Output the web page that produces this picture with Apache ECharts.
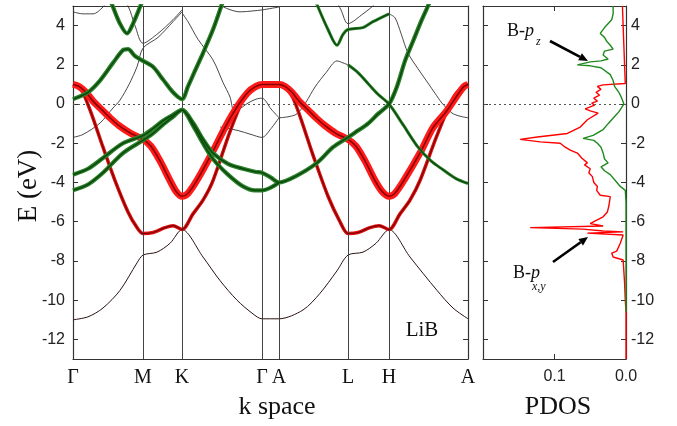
<!doctype html>
<html>
<head>
<meta charset="utf-8">
<script src="https://cdn.jsdelivr.net/npm/echarts@6/dist/echarts.min.js"></script>
<style>
  html, body { margin:0; padding:0; background:#fff; }
  #chart { width:677px; height:426px; }
</style>
</head>
<body>
<div id="chart"></div>
<script>
// k path (distance along path) and energy ticks
const kPos   = [0, 70, 109, 189, 206, 275, 316, 395];
const kNames = ['Γ', 'M', 'K', 'Γ', 'A', 'L', 'H', 'A'];
const eTicks = [-12, -10, -8, -6, -4, -2, 0, 2, 4];

// thin (black) bands : [k, E]
const bandLow = [[0,-11],[15,-10.85],[30,-10.4],[47,-9.5],[64,-8.1],[70,-7.7],[84,-7.55],[97,-7.1],[109,-6.4],
  [130,-7.8],[147,-9.0],[164,-10.0],[180,-10.7],[189,-10.95],[206,-10.95],[230,-10.5],[247,-9.65],[264,-8.5],[275,-7.7],
  [290,-7.55],[303,-7.1],[316,-6.4],[337,-7.8],[364,-9.5],[380,-10.4],[395,-10.95]];
const bandGM = [[0,-1.7],[10,-1.55],[27,-0.97],[40,-0.2],[47,0.2],[56,1.0],[64,1.9],[70,2.85],[85,3.4],[100,4.2],[109,4.7]];
const bandTopGM = [[0,4.7],[10,4.6],[20,4.6],[30,4.95],[43,5.8],[55,5.0],[62,4.0],[70,3.1],[85,3.6],[100,4.3],[109,4.8]];
const bandKG = [[109,4.65],[115,4.2],[125,3.3],[140,2.25],[150,1.1],[157,0.36],[161,-0.35],[165,-0.3],[175,0.05],[183,0.25],[189,0.3],[198,-0.25],[206,-0.7]];
const bandKG2 = [[147,-1.17],[165,-1.35],[178,-1.55],[189,-1.7],[198,-1.25],[206,-0.7]];
const bandTopGA = [[145,5.1],[155,4.85],[167,4.7],[180,4.75],[189,4.8],[206,4.95]];
const bandAL = [[206,-0.7],[215,-0.65],[224,-0.5],[233,0.1],[242,0.87],[253,1.6],[264,2.2],[270,2.1],[275,2.0]];
const bandTopL = [[258,5.8],[268,4.8],[275,4.1],[290,4.6],[302,5.1],[308,5.5]];
const bandHA = [[316,4.6],[322,4.4],[328,3.6],[335,2.6],[345,1.8],[355,1.07],[362,0.55],[369,0.05],[379,-0.46],[387,-0.62],[395,-0.7]];

// B-px,y fat bands (red)
const redMain = [[0,1.0],[6,0.9],[13,0.6],[20,0.15],[29,-0.3],[38,-0.75],[46,-1.1],[58,-1.5],[70,-1.8],
  [78,-2.15],[87,-2.9],[97,-3.9],[103,-4.45],[109,-4.7],[115,-4.55],[125,-3.8],[140,-2.4],[152,-1.2],[164,-0.15],
  [175,0.6],[183,0.9],[189,1.0],[206,1.0],[212,0.9],[219,0.6],[226,0.15],[235,-0.3],[244,-0.75],[252,-1.1],[263,-1.5],
  [275,-1.8],[283,-2.15],[292,-2.9],[302,-3.9],[309,-4.45],[316,-4.7],[322,-4.55],[332,-3.8],[348,-2.4],[360,-1.2],
  [373,-0.4],[385,0.5],[391,0.9],[395,1.0]];
const redSteep = [[0,1.0],[8,0.75],[17,-0.3],[30,-2.2],[42,-3.9],[55,-5.5],[64,-6.3],[70,-6.6],[80,-6.55],[92,-6.3],
  [100,-6.2],[109,-6.4],[120,-5.6],[130,-4.9],[140,-3.9],[157,-1.4],[172,0.4],[183,0.9],[189,1.0],[206,1.0],[212,0.85],
  [221,0.2],[240,-2.6],[255,-4.7],[267,-6.0],[275,-6.6],[285,-6.55],[297,-6.3],[306,-6.2],[316,-6.4],[327,-5.6],
  [337,-4.9],[347,-3.9],[364,-1.6],[380,0.3],[390,0.9],[395,1.0]];

// B-pz fat bands (green)
const greenUp = [[0,0.25],[15,0.6],[27,1.2],[40,2.1],[50,2.75],[55,2.8],[62,2.45],[70,2.2],[80,1.9],[90,1.25],[100,0.6],
  [109,0.25],[115,0.9],[122,1.7],[130,2.6],[140,3.8],[147,4.8],[152,5.6]];
const greenTopGM = [[35,5.6],[40,4.95],[47,4.1],[54,3.6],[60,4.1],[67,4.95],[72,5.6]];
const greenLow1 = [[0,-3.6],[15,-3.3],[30,-2.75],[50,-2.0],[70,-1.6],[80,-1.25],[90,-0.85],[100,-0.55],[109,-0.3],
  [120,-0.95],[130,-1.8],[140,-2.5],[155,-3.05],[170,-3.3],[182,-3.45],[189,-3.5],[198,-3.75],[206,-4.0],
  [222,-3.7],[244,-3.0],[260,-2.2],[275,-1.7],[285,-1.35],[295,-1.0],[305,-0.5],[316,0.0],
  [324,0.9],[332,2.2],[340,3.2],[348,4.2],[355,5.0],[360,5.6]];
const greenLow2 = [[0,-4.4],[15,-4.1],[30,-3.5],[50,-2.5],[70,-1.85],[80,-1.5],[90,-1.05],[100,-0.65],[109,-0.3],
  [120,-1.1],[130,-2.0],[140,-2.8],[155,-3.6],[170,-4.2],[182,-4.4],[189,-4.4],[198,-4.25],[206,-4.0]];
const greenLH = [[275,2.0],[285,1.6],[295,1.05],[305,0.5],[316,0],[330,-1.05],[345,-2.2],[358,-2.9],[370,-3.35],[383,-3.8],[395,-4.05]];
const greenTopAL = [[240,5.6],[245,4.95],[255,3.8],[264,3.0],[270,3.55],[275,3.8],[290,3.9],[300,4.2],[316,4.6]];

// PDOS : [value, E]
const pdosPxy = [[0.005,5.0],[0.004,4.0],[0.003,3.0],[0.002,2.0],[0.001,1.05],[0.032,0.98],[0.04,0.9],[0.035,0.75],
  [0.042,0.6],[0.037,0.45],[0.045,0.3],[0.04,0.15],[0.048,0.05],[0.044,-0.05],[0.057,-0.25],[0.05,-0.35],[0.039,-0.46],
  [0.054,-0.8],[0.064,-1.17],[0.082,-1.5],[0.124,-1.68],[0.148,-1.8],[0.12,-1.93],[0.092,-2.0],[0.085,-2.2],[0.078,-2.35],
  [0.068,-2.5],[0.062,-2.75],[0.054,-3.0],[0.058,-3.1],[0.05,-3.3],[0.052,-3.5],[0.047,-3.7],[0.045,-4.0],[0.04,-4.2],
  [0.041,-4.4],[0.036,-4.65],[0.022,-4.72],[0.024,-5.2],[0.026,-5.5],[0.032,-5.75],[0.045,-6.0],[0.05,-6.1],[0.032,-6.22],
  [0.134,-6.3],[0.06,-6.38],[0.032,-6.47],[0.004,-6.52],[0.054,-6.58],[0.004,-6.68],[0.008,-7.1],[0.013,-7.5],[0.02,-7.6],
  [0.018,-7.8],[0.004,-7.95],[0.002,-9.1],[0.001,-10.0],[0,-10.6],[0,-13]];
const pdosPz = [[0.018,5.0],[0.018,4.6],[0.02,4.3],[0.03,3.9],[0.036,3.6],[0.03,3.4],[0.027,3.2],[0.022,3.0],[0.018,2.8],
  [0.03,2.7],[0.032,2.5],[0.025,2.3],[0.035,2.2],[0.05,2.15],[0.068,2.0],[0.05,1.95],[0.035,1.85],[0.022,1.5],[0.018,1.2],
  [0.016,0.9],[0.01,0.6],[0.006,0.3],[0.003,0.0],[0.01,-0.4],[0.015,-0.6],[0.025,-1.0],[0.032,-1.3],[0.046,-1.6],
  [0.06,-1.75],[0.045,-1.85],[0.04,-2.0],[0.035,-2.2],[0.032,-2.5],[0.03,-2.8],[0.025,-3.0],[0.035,-3.2],[0.03,-3.4],
  [0.022,-3.6],[0.015,-3.9],[0.008,-4.2],[0.001,-4.4],[0,-5],[0,-10.6]];

const SERIF = '"Liberation Serif", "Times New Roman", serif';
const SANS = '"Liberation Sans", Arial, sans-serif';
const frame = { show: true, onZero: false, lineStyle: { color: '#333', width: 1.2 } };

function line(data, color, width, z) {
  return { type: 'line', xAxisIndex: 0, yAxisIndex: 0, data, smooth: 0.3, showSymbol: false, silent: true,
           animation: false, z, lineStyle: { color, width } };
}
function fat(data, outer, ow, core, cw, z) {
  return [line(data, outer, ow, z), line(data, core, cw, z + 1)];
}

const zeroLine = { yAxis: 0, lineStyle: { type: [2, 3], color: '#555', width: 1 } };
const series = [];
const low = line(bandLow, '#2a1212', 1, 2);
low.markLine = {
  silent: true, symbol: ['none', 'none'], label: { show: false }, animation: false,
  data: kPos.slice(1, 7).map(k => ({ xAxis: k, lineStyle: { type: 'solid', color: '#444', width: 1 } })).concat([zeroLine])
};
series.push(low);
[bandGM, bandTopGM, bandKG, bandKG2, bandTopGA, bandAL, bandTopL, bandHA].forEach(b => series.push(line(b, '#333', 0.9, 2)));
series.push(...fat(redSteep, '#e01010', 3.5, '#7a0000', 1.2, 4));
series.push(...fat(redMain, '#ff1a1a', 7, '#8a0000', 1.6, 6));
[greenUp, greenLow1, greenLow2, greenTopGM].forEach(b => series.push(...fat(b, '#2b802b', 4.2, '#0b4a0b', 1.6, 8)));
[greenLH, greenTopAL].forEach(b => series.push(...fat(b, '#2b802b', 3, '#0b4a0b', 1.3, 8)));

series.push({ type: 'line', xAxisIndex: 2, yAxisIndex: 2, data: pdosPxy, showSymbol: false, silent: true, animation: false,
  lineStyle: { color: '#ff0000', width: 1.4 }, z: 3 });
series.push({ type: 'line', xAxisIndex: 2, yAxisIndex: 2, data: pdosPz, showSymbol: false, silent: true, animation: false,
  lineStyle: { color: '#1f8a1f', width: 1.4 }, z: 4,
  markLine: { silent: true, symbol: ['none', 'none'], label: { show: false }, animation: false, data: [zeroLine] } });

const eAxis = (grid, pos, labels) => ({
  type: 'value', gridIndex: grid, position: pos, min: -13, max: 5,
  axisLine: frame, splitLine: { show: false },
  axisTick: { show: true, inside: true, length: 5, customValues: eTicks, lineStyle: { color: '#333' } },
  axisLabel: labels ? { show: true, customValues: eTicks, fontSize: 16, fontFamily: SANS, color: '#222', margin: pos === 'left' ? 8 : 5 }
                    : { show: false }
});

// arrows (annotation)
function arrow(x1, y1, x2, y2) {
  const dx = x2 - x1, dy = y2 - y1, L = Math.hypot(dx, dy), ux = dx / L, uy = dy / L;
  const bx = x2 - 9 * ux, by = y2 - 9 * uy, px = -uy * 4, py = ux * 4;
  return [
    { type: 'line', shape: { x1, y1, x2: bx, y2: by }, style: { stroke: '#000', lineWidth: 2.6 } },
    { type: 'polygon', shape: { points: [[x2, y2], [bx + px, by + py], [bx - px, by - py]] }, style: { fill: '#000' } }
  ];
}

const option = {
  backgroundColor: '#fff',
  animation: false,
  grid: [
    { left: 73, right: 209, top: 6, bottom: 67, outerBoundsMode: 'none' },
    { left: 483, right: 51, top: 6, bottom: 67, outerBoundsMode: 'none' }
  ],
  xAxis: [
    { type: 'value', gridIndex: 0, position: 'bottom', min: 0, max: 395, axisLine: frame, splitLine: { show: false },
      axisTick: { show: false },
      axisLabel: { customValues: kPos, formatter: v => kNames[kPos.indexOf(v)], hideOverlap: false,
                   fontFamily: SERIF, fontSize: 20, color: '#111', margin: 9 } },
    { type: 'value', gridIndex: 0, position: 'top', min: 0, max: 395, axisLine: frame, splitLine: { show: false },
      axisTick: { show: false }, axisLabel: { show: false } },
    { type: 'value', gridIndex: 1, position: 'bottom', min: 0, max: 0.2, inverse: true, axisLine: frame,
      splitLine: { show: false },
      axisTick: { inside: true, length: 5, customValues: [0.1], lineStyle: { color: '#333' } },
      axisLabel: { customValues: [0.1, 0], formatter: v => v.toFixed(1), fontFamily: SANS, fontSize: 16, color: '#222', margin: 10 } },
    { type: 'value', gridIndex: 1, position: 'top', min: 0, max: 0.2, inverse: true, axisLine: frame,
      splitLine: { show: false },
      axisTick: { inside: true, length: 5, customValues: [0.1], lineStyle: { color: '#333' } }, axisLabel: { show: false } }
  ],
  yAxis: [eAxis(0, 'left', true), eAxis(0, 'right', false), eAxis(1, 'left', false), eAxis(1, 'right', true)],
  series,
  graphic: [
    { type: 'text', x: 29, y: 186, rotation: Math.PI / 2,
      style: { text: 'E (eV)', font: '27px ' + SERIF, fill: '#111', align: 'center', verticalAlign: 'middle' } },
    { type: 'text', x: 277, y: 407,
      style: { text: 'k space', font: '26px ' + SERIF, fill: '#111', align: 'center', verticalAlign: 'middle' } },
    { type: 'text', x: 558, y: 407,
      style: { text: 'PDOS', font: '26px ' + SERIF, fill: '#111', align: 'center', verticalAlign: 'middle' } },
    { type: 'text', x: 422, y: 330,
      style: { text: 'LiB', font: '21px ' + SERIF, fill: '#111', align: 'center', verticalAlign: 'middle' } },
    { type: 'text', x: 507, y: 31,
      style: { text: '{a|B-}{b|p}', rich: { a: { font: '18px ' + SERIF, fill: '#111' }, b: { font: 'italic 18px ' + SERIF, fill: '#111' } },
               verticalAlign: 'middle' } },
    { type: 'text', x: 536, y: 42, style: { text: 'z', font: 'italic 12px ' + SERIF, fill: '#111', verticalAlign: 'middle' } },
    { type: 'text', x: 513, y: 273,
      style: { text: '{a|B-}{b|p}', rich: { a: { font: '18px ' + SERIF, fill: '#111' }, b: { font: 'italic 18px ' + SERIF, fill: '#111' } },
               verticalAlign: 'middle' } },
    { type: 'text', x: 532, y: 287, style: { text: 'x,y', font: 'italic 12px ' + SERIF, fill: '#111', verticalAlign: 'middle' } },
    ...arrow(550, 41, 588, 61),
    ...arrow(553, 262, 588, 237)
  ]
};

echarts.init(document.getElementById('chart'), null, { renderer: 'canvas' }).setOption(option);
</script>
</body>
</html>
